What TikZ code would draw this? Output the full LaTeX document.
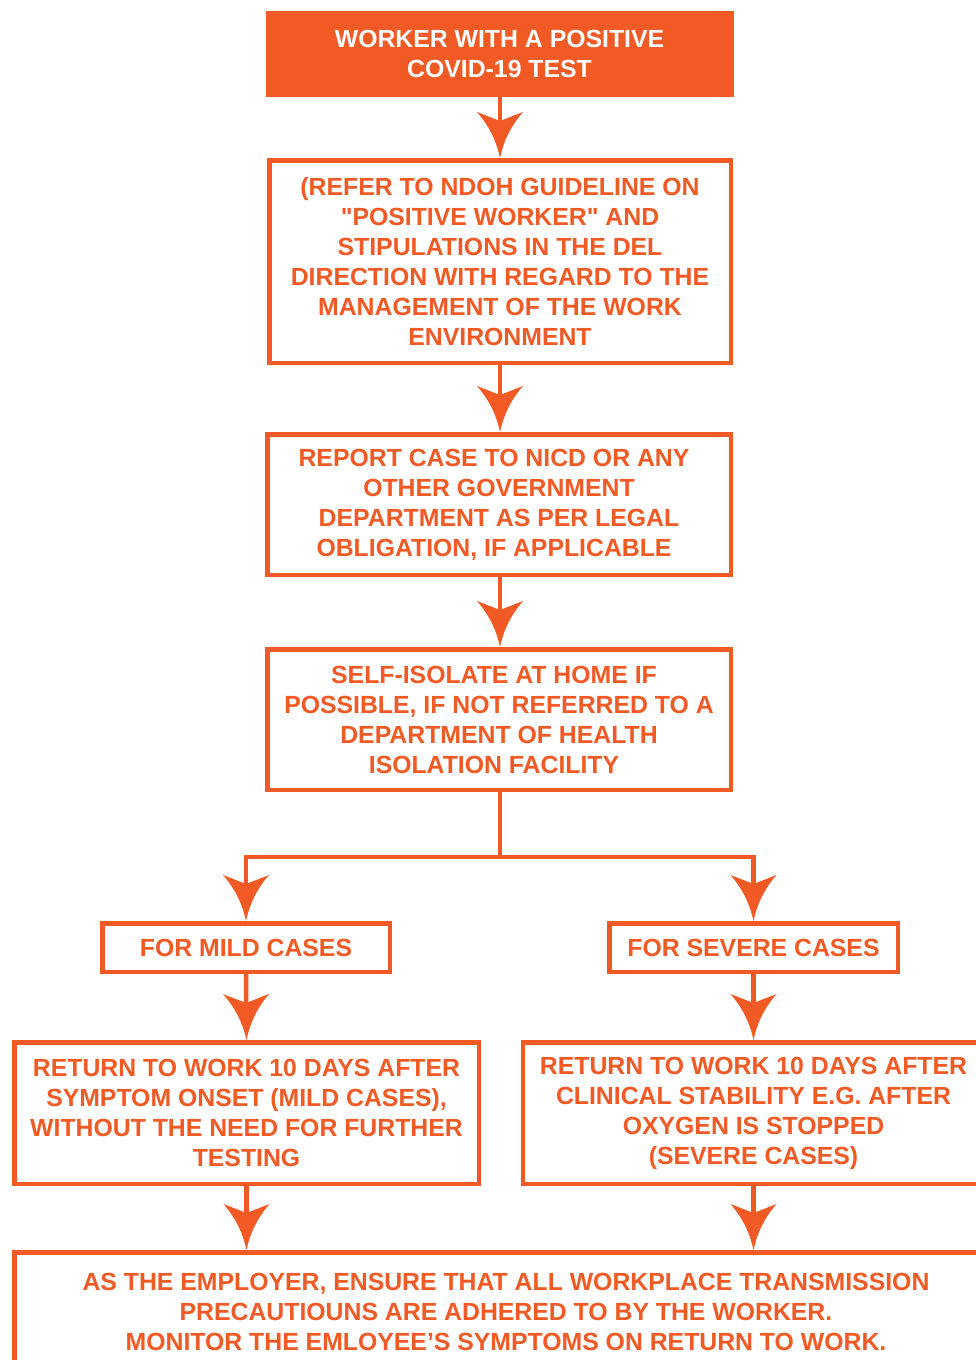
\documentclass[tikz,border=0pt]{standalone}
\usepackage{fontspec}
\setmainfont{Liberation Sans}[Ligatures=TeXOff]
\usetikzlibrary{arrows.meta}
\definecolor{brand}{RGB}{241,90,36}
\pgfdeclarearrow{
  name=BigTip,
  setup code={
    \pgfarrowssettipend{0pt}
    \pgfarrowssetlineend{-30pt}
    \pgfarrowssetbackend{-46pt}
    \pgfarrowssetvisualbackend{-46pt}
  },
  drawing code={
    \pgfsetfillcolor{brand}
    \pgfpathmoveto{\pgfqpoint{0pt}{0pt}}
    \pgfpathcurveto{\pgfqpoint{-14pt}{3pt}}{\pgfqpoint{-30pt}{9pt}}{\pgfqpoint{-46pt}{23pt}}
    \pgfpathlineto{\pgfqpoint{-37pt}{0pt}}
    \pgfpathlineto{\pgfqpoint{-46pt}{-23pt}}
    \pgfpathcurveto{\pgfqpoint{-30pt}{-9pt}}{\pgfqpoint{-14pt}{-3pt}}{\pgfqpoint{0pt}{0pt}}
    \pgfpathclose
    \pgfusepathqfill
  },
}
\newcommand\myLeftShift[1]{#1\hspace*{10pt}}
\tikzset{
  box/.style={draw=brand, line width=4.5pt, text=brand, align=center,
    font=\fontsize{24.8}{30}\selectfont\bfseries, inner sep=0pt},
  topbox/.style={box, fill=brand, text=white, line width=0.5pt},
  conn/.style={draw=brand, line width=4.5pt, -{BigTip}},
  plain/.style={draw=brand, line width=4.5pt},
}
\begin{document}
\begin{tikzpicture}[x=1pt,y=-1pt]
\useasboundingbox (0,0) rectangle (976,1360);
\clip (0,0) rectangle (976,1360);
\fill[white] (0,0) rectangle (976,1360);

\node[topbox, minimum width=467pt, minimum height=85pt] (top) at (499.5,53.5)
  {\raisebox{-2pt}{WORKER WITH A POSITIVE}\\\raisebox{-2pt}{COVID-19 TEST}};
\node[box, minimum width=461.5pt, minimum height=202.5pt] (b2) at (500,261.5)
  {(REFER TO NDOH GUIDELINE ON\\"POSITIVE WORKER" AND\\STIPULATIONS IN THE DEL\\DIRECTION WITH REGARD TO THE\\MANAGEMENT OF THE WORK\\ENVIRONMENT};
\node[box, minimum width=463.5pt, minimum height=140.5pt] (b3) at (499,504.5)
  {\myLeftShift{REPORT CASE TO NICD OR ANY}\\\myLeftShift{OTHER GOVERNMENT}\\\myLeftShift{DEPARTMENT AS PER LEGAL}\\\myLeftShift{OBLIGATION, IF APPLICABLE}};
\node[box, minimum width=463.5pt, minimum height=140.5pt] (b4) at (499,719.5)
  {\myLeftShift{SELF-ISOLATE AT HOME IF}\\\myLeftShift{POSSIBLE, IF NOT REFERRED TO A}\\\myLeftShift{DEPARTMENT OF HEALTH}\\\myLeftShift{ISOLATION FACILITY}};
\node[box, minimum width=287.5pt, minimum height=48.5pt] (mild) at (246,947.5)
  {FOR MILD CASES};
\node[box, minimum width=288.5pt, minimum height=48.5pt] (severe) at (753.5,947.5)
  {FOR SEVERE CASES};
\node[box, minimum width=464.5pt, minimum height=141.5pt] (rl) at (246.5,1113)
  {RETURN TO WORK 10 DAYS AFTER\\SYMPTOM ONSET (MILD CASES),\\WITHOUT THE NEED FOR FURTHER\\TESTING};
\node[box, minimum width=461.5pt, minimum height=141.5pt] (rr) at (753.5,1113)
  {RETURN TO WORK 10 DAYS AFTER\\CLINICAL STABILITY E.G. AFTER\\OXYGEN IS STOPPED\\(SEVERE CASES)};
\node[box, minimum width=983.5pt, minimum height=118.5pt] (fin) at (506,1311.5)
  {AS THE EMPLOYER, ENSURE THAT ALL WORKPLACE TRANSMISSION\\PRECAUTIOUNS ARE ADHERED TO BY THE WORKER.\\MONITOR THE EMLOYEE’S SYMPTOMS ON RETURN TO WORK.};

\coordinate (split) at (500,857);

\draw[conn] (top.south -| b2.north) -- (b2.north);
\draw[conn] (b2.south) -- (b2.south |- b3.north);
\draw[conn] (b3.south -| b2.south) -- (b2.south |- b4.north);
\draw[plain] (b4.south -| split) -- (split);
\draw[conn] ([xshift=2.25pt]split) -| (mild.north);
\draw[conn] ([xshift=-2.25pt]split) -| (severe.north);
\draw[conn] (mild.south) -- (rl.north);
\draw[conn] (severe.south) -- (rr.north);
\draw[conn] (rl.south) -- (rl.south |- fin.north);
\draw[conn] (rr.south) -- (rr.south |- fin.north);
\end{tikzpicture}
\end{document}
